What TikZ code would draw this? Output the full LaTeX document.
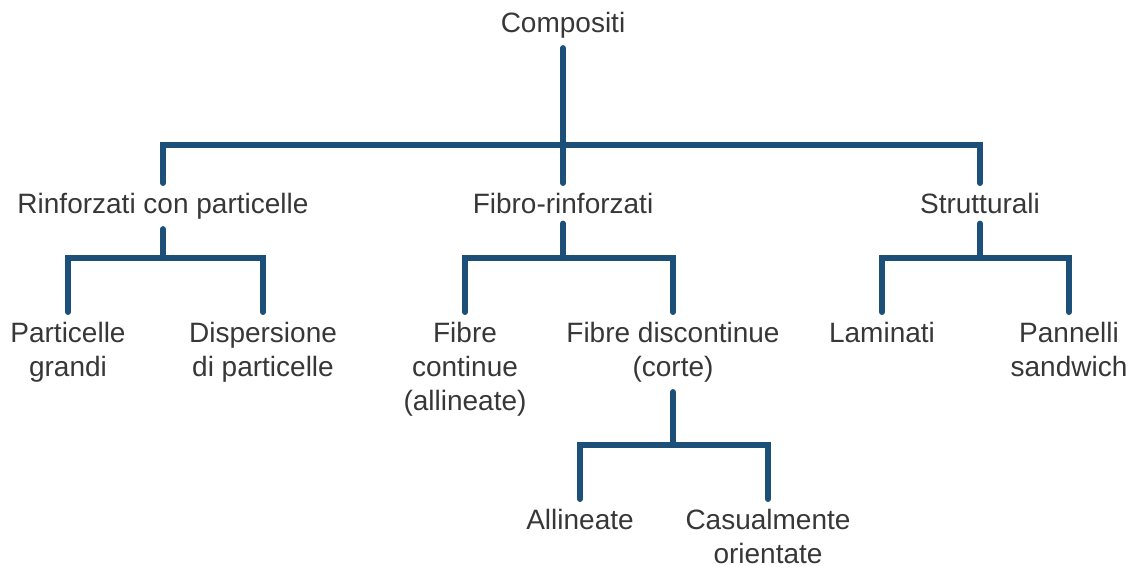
\documentclass[tikz,border=0pt]{standalone}
\usepackage{fontspec}
\setmainfont{Liberation Sans}
\usetikzlibrary{calc}
\definecolor{ramo}{RGB}{28,80,120}
\definecolor{testo}{RGB}{55,55,55}

\begin{document}
\begin{tikzpicture}[x=1pt, y=-1pt,
        voce/.style={anchor=north, inner sep=0pt, outer sep=10pt, align=center,
            text=testo, font=\fontsize{28}{34}\selectfont},
        ramo/.style={draw=ramo, line width=6pt, line join=miter, line cap=round}]
        \useasboundingbox (0,0) rectangle (1129,567);

        % livello 0 e 1
        \node[voce] (comp) at (563,2) {Compositi};
        \node[voce] (rinf) at (163,183) {Rinforzati con particelle};
        \node[voce] (fibro) at (563,183) {Fibro-rinforzati};
        \node[voce] (strut) at (980,183) {Strutturali};

        % livello 2
        \node[voce] (part) at (68,312) {Particelle\\grandi};
        \node[voce] (disp) at (263,312) {Dispersione\\di particelle};
        \node[voce] (fcont) at (465,312) {Fibre\\continue\\(allineate)};
        \node[voce] (fdisc) at (673,312) {Fibre discontinue\\(corte)};
        \node[voce] (lam) at (882,312) {Laminati};
        \node[voce] (pann) at (1069,312) {Pannelli\\sandwich};

        % livello 3
        \node[voce] (alli) at (580,499) {Allineate};
        \node[voce] (casu) at (768,499) {Casualmente\\orientate};

        \coordinate (j0) at (563,145);
        \coordinate (jr) at (163,258);
        \coordinate (jf) at (563,258);
        \coordinate (js) at (980,258);
        \coordinate (jc) at (673,445);

        \draw[ramo] (comp) -- (fibro);
        \draw[ramo] (rinf) |- (j0) -| (strut);

        \draw[ramo] (rinf) -- (jr);
        \draw[ramo] (part) |- (jr) -| (disp);
        \draw[ramo] (fibro) -- (jf);
        \draw[ramo] (fcont) |- (jf) -| (fdisc);
        \draw[ramo] (strut) -- (js);
        \draw[ramo] (lam) |- (js) -| (pann);

        \draw[ramo] (fdisc) -- (jc);
        \draw[ramo] (alli) |- (jc) -| (casu);
    \end{tikzpicture}
\end{document}
